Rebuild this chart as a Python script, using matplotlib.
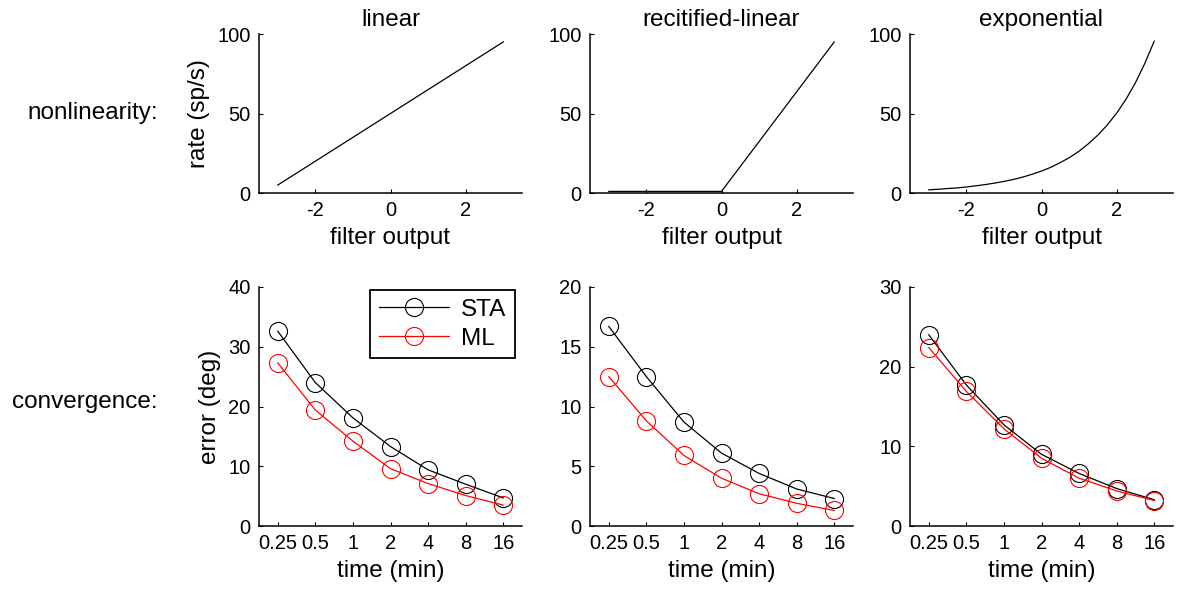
import matplotlib
matplotlib.use("Agg")
import matplotlib.pyplot as plt
import numpy as np

plt.rcParams['font.family'] = ['Liberation Sans', 'DejaVu Sans']
plt.rcParams['axes.unicode_minus'] = False

# nonlinearities (filter output -> rate)
lin_x = [-3, 3]
lin_y = [5, 95]
relu_x = [-3, 0, 3]
relu_y = [1, 1, 95]
exp_x = [-3, -2.75, -2.5, -2.25, -2, -1.75, -1.5, -1.25, -1, -0.75, -0.5, -0.25, 0,
         0.25, 0.5, 0.75, 1, 1.25, 1.5, 1.75, 2, 2.25, 2.5, 2.75, 3]
exp_y = [2.0, 2.35, 2.8, 3.2, 3.8, 4.5, 5.3, 6.2, 7.3, 8.5, 10.0, 11.8, 13.8,
         16.2, 19.1, 22.4, 26.3, 31.0, 36.4, 42.8, 50.2, 59.0, 69.3, 81.5, 95.5]

# convergence (error in deg vs recording time)
time_min = [0.25, 0.5, 1, 2, 4, 8, 16]
time_labels = ['0.25', '0.5', '1', '2', '4', '8', '16']
sta_linear = [32.6, 24.0, 18.1, 13.3, 9.4, 7.0, 4.7]
ml_linear = [27.3, 19.4, 14.2, 9.6, 7.1, 5.1, 3.5]
sta_relu = [16.7, 12.5, 8.7, 6.1, 4.4, 3.1, 2.3]
ml_relu = [12.5, 8.8, 5.9, 4.0, 2.7, 1.9, 1.3]
sta_exp = [24.0, 17.7, 12.7, 9.0, 6.6, 4.7, 3.3]
ml_exp = [22.4, 16.9, 12.2, 8.5, 6.0, 4.4, 3.2]

titles = ['linear', 'recitified-linear', 'exponential']
curves = [(lin_x, lin_y), (relu_x, relu_y), (exp_x, exp_y)]
conv = [(sta_linear, ml_linear), (sta_relu, ml_relu), (sta_exp, ml_exp)]
ylims = [(0, 40, 10), (0, 20, 5), (0, 30, 10)]

W, H = 1181, 590
fig = plt.figure(figsize=(W / 100, H / 100), dpi=100)

lefts = [259, 590, 910]
aw = 263
label_fs = 17.5
tick_fs = 14.5


def style(ax):
    for s in ['top', 'right']:
        ax.spines[s].set_visible(False)
    for s in ['left', 'bottom']:
        ax.spines[s].set_linewidth(1.1)
    ax.tick_params(direction='in', length=3, width=0.8, labelsize=tick_fs, pad=6)


for i in range(3):
    # top row: nonlinearity
    ax = fig.add_axes([lefts[i] / W, 1 - 193 / H, aw / W, 159 / H])
    style(ax)
    x, y = curves[i]
    ax.plot(x, y, color='black', linewidth=0.9)
    ax.set_xlim(-3.5, 3.5)
    ax.set_ylim(0, 100)
    ax.set_xticks([-2, 0, 2])
    ax.set_yticks([0, 50, 100])
    ax.set_title(titles[i], fontsize=label_fs, pad=6)
    ax.set_xlabel('filter output', fontsize=label_fs, labelpad=5)
    if i == 0:
        ax.set_ylabel('rate (sp/s)', fontsize=label_fs, labelpad=5)

    # bottom row: convergence
    ax2 = fig.add_axes([lefts[i] / W, 1 - 526 / H, aw / W, 239 / H])
    style(ax2)
    sta, ml = conv[i]
    ax2.plot(time_min, sta, color='black', linewidth=0.9, marker='o', markersize=13,
             markerfacecolor='none', markeredgewidth=0.8, label='STA')
    ax2.plot(time_min, ml, color='red', linewidth=0.9, marker='o', markersize=13,
             markerfacecolor='none', markeredgewidth=0.8, label='ML')
    ax2.set_xscale('log', base=2)
    ax2.set_xlim(2 ** -2.5, 2 ** 4.5)
    ax2.set_xticks(time_min)
    ax2.set_xticklabels(time_labels)
    ax2.minorticks_off()
    lo, hi, step = ylims[i]
    ax2.set_ylim(lo, hi)
    ax2.set_yticks(np.arange(lo, hi + step / 2, step))
    ax2.set_xlabel('time (min)', fontsize=label_fs, labelpad=5)
    if i == 0:
        ax2.set_ylabel('error (deg)', fontsize=label_fs, labelpad=5)
        leg = ax2.legend(loc='upper right', bbox_to_anchor=(1 - 7 / aw, 1 - 3 / 239),
                         borderaxespad=0, fontsize=label_fs, handlelength=2.9,
                         fancybox=False, framealpha=1, edgecolor='black',
                         borderpad=0.35, labelspacing=0.3, handletextpad=0.5)
        leg.get_frame().set_linewidth(1.3)

fig.text(158 / W, 1 - 113 / H, 'nonlinearity:', fontsize=label_fs, ha='right', va='center')
fig.text(158 / W, 1 - 402 / H, 'convergence:', fontsize=label_fs, ha='right', va='center')

fig.savefig('out.png', dpi=100)
